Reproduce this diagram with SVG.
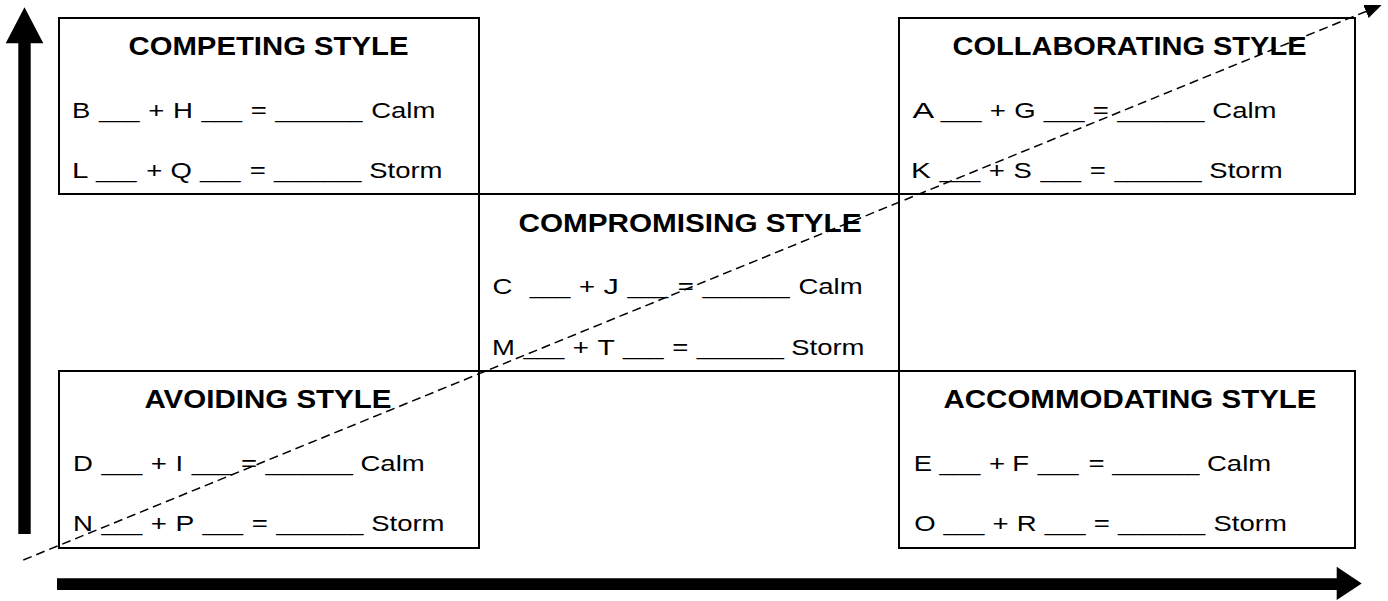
<svg xmlns="http://www.w3.org/2000/svg" width="1388" height="601" viewBox="0 0 1388 601">
  <style>
    .box { fill: #ffffff; stroke: #000000; stroke-width: 2; }
    .title { font-family: "Liberation Sans", Arial, sans-serif; font-weight: bold; font-size: 25px; fill: #000000; }
    .row { font-family: "Liberation Sans", Arial, sans-serif; font-size: 22.5px; fill: #000000; }
    .axis { fill: #000000; stroke: none; }
    .trend { fill: none; stroke: #000000; stroke-width: 1.5; stroke-dasharray: 9 5; }
  </style>
  <defs>
    <marker id="arrowHead" viewBox="0 0 17 14" refX="17" refY="7" markerWidth="17" markerHeight="14" markerUnits="userSpaceOnUse" orient="auto">
      <path d="M0,0 L17,7 L0,14 z" fill="#000000"/>
    </marker>
  </defs>

  <rect width="1388" height="601" fill="#ffffff"/>

  <!-- style quadrants; each answer row is laid out token by token -->
  <g id="competing">
    <rect class="box" x="59" y="18" width="420" height="176"/>
    <text class="title" x="128.5" y="55" textLength="280" lengthAdjust="spacingAndGlyphs">COMPETING STYLE</text>
    <text class="row" y="118"><tspan x="72" textLength="18.3" lengthAdjust="spacingAndGlyphs">B</tspan> <tspan x="98.9" textLength="40.7" lengthAdjust="spacingAndGlyphs">___</tspan> <tspan x="148.2" textLength="16.1" lengthAdjust="spacingAndGlyphs">+</tspan> <tspan x="172.9" textLength="19.9" lengthAdjust="spacingAndGlyphs">H</tspan> <tspan x="201.4" textLength="40.7" lengthAdjust="spacingAndGlyphs">___</tspan> <tspan x="250.7" textLength="16.1" lengthAdjust="spacingAndGlyphs">=</tspan> <tspan x="275.3" textLength="87.3" lengthAdjust="spacingAndGlyphs">_______</tspan> <tspan x="371.2" textLength="64.2" lengthAdjust="spacingAndGlyphs">Calm</tspan></text>
    <text class="row" y="178"><tspan x="72" textLength="15.3" lengthAdjust="spacingAndGlyphs">L</tspan> <tspan x="95.9" textLength="40.7" lengthAdjust="spacingAndGlyphs">___</tspan> <tspan x="146.2" textLength="16.1" lengthAdjust="spacingAndGlyphs">+</tspan> <tspan x="170.4" textLength="21.4" lengthAdjust="spacingAndGlyphs">Q</tspan> <tspan x="199.9" textLength="40.7" lengthAdjust="spacingAndGlyphs">___</tspan> <tspan x="249.7" textLength="16.1" lengthAdjust="spacingAndGlyphs">=</tspan> <tspan x="274.1" textLength="87.3" lengthAdjust="spacingAndGlyphs">_______</tspan> <tspan x="369.2" textLength="73.3" lengthAdjust="spacingAndGlyphs">Storm</tspan></text>
  </g>

  <g id="collaborating">
    <rect class="box" x="899" y="18" width="456" height="176"/>
    <text class="title" x="952.5" y="55" textLength="354" lengthAdjust="spacingAndGlyphs">COLLABORATING STYLE</text>
    <text class="row" y="118"><tspan x="912.5" textLength="19.9" lengthAdjust="spacingAndGlyphs">A</tspan> <tspan x="940.8" textLength="40.7" lengthAdjust="spacingAndGlyphs">___</tspan> <tspan x="989.8" textLength="16.1" lengthAdjust="spacingAndGlyphs">+</tspan> <tspan x="1014.2" textLength="21.4" lengthAdjust="spacingAndGlyphs">G</tspan> <tspan x="1043.8" textLength="40.7" lengthAdjust="spacingAndGlyphs">___</tspan> <tspan x="1092.8" textLength="16.1" lengthAdjust="spacingAndGlyphs">=</tspan> <tspan x="1117.2" textLength="87.3" lengthAdjust="spacingAndGlyphs">_______</tspan> <tspan x="1212.3" textLength="64.2" lengthAdjust="spacingAndGlyphs">Calm</tspan></text>
    <text class="row" y="178"><tspan x="911" textLength="19.9" lengthAdjust="spacingAndGlyphs">K</tspan> <tspan x="939.5" textLength="40.7" lengthAdjust="spacingAndGlyphs">___</tspan> <tspan x="988.8" textLength="16.1" lengthAdjust="spacingAndGlyphs">+</tspan> <tspan x="1013.4" textLength="18.3" lengthAdjust="spacingAndGlyphs">S</tspan> <tspan x="1040.4" textLength="40.7" lengthAdjust="spacingAndGlyphs">___</tspan> <tspan x="1089.7" textLength="16.1" lengthAdjust="spacingAndGlyphs">=</tspan> <tspan x="1114.4" textLength="87.3" lengthAdjust="spacingAndGlyphs">_______</tspan> <tspan x="1209.3" textLength="73.3" lengthAdjust="spacingAndGlyphs">Storm</tspan></text>
  </g>

  <g id="compromising">
    <rect class="box" x="479" y="194" width="420" height="177"/>
    <text class="title" x="518.5" y="232" textLength="343" lengthAdjust="spacingAndGlyphs">COMPROMISING STYLE</text>
    <text class="row" y="294" xml:space="preserve"><tspan x="492.6" textLength="19.9" lengthAdjust="spacingAndGlyphs">C</tspan>  <tspan x="529.7" textLength="40.7" lengthAdjust="spacingAndGlyphs">___</tspan> <tspan x="579" textLength="16.1" lengthAdjust="spacingAndGlyphs">+</tspan> <tspan x="603.6" textLength="15.3" lengthAdjust="spacingAndGlyphs">J</tspan> <tspan x="627.5" textLength="40.7" lengthAdjust="spacingAndGlyphs">___</tspan> <tspan x="677.8" textLength="16.1" lengthAdjust="spacingAndGlyphs">=</tspan> <tspan x="702.5" textLength="87.3" lengthAdjust="spacingAndGlyphs">_______</tspan> <tspan x="798.4" textLength="64.2" lengthAdjust="spacingAndGlyphs">Calm</tspan></text>
    <text class="row" y="355"><tspan x="492" textLength="22.9" lengthAdjust="spacingAndGlyphs">M</tspan> <tspan x="523.5" textLength="40.7" lengthAdjust="spacingAndGlyphs">___</tspan> <tspan x="572.8" textLength="16.1" lengthAdjust="spacingAndGlyphs">+</tspan> <tspan x="597.5" textLength="16.8" lengthAdjust="spacingAndGlyphs">T</tspan> <tspan x="622.9" textLength="40.7" lengthAdjust="spacingAndGlyphs">___</tspan> <tspan x="672.2" textLength="16.1" lengthAdjust="spacingAndGlyphs">=</tspan> <tspan x="696.8" textLength="87.3" lengthAdjust="spacingAndGlyphs">_______</tspan> <tspan x="791.2" textLength="73.3" lengthAdjust="spacingAndGlyphs">Storm</tspan></text>
  </g>

  <g id="avoiding">
    <rect class="box" x="59" y="371" width="420" height="177"/>
    <text class="title" x="144.5" y="408" textLength="247" lengthAdjust="spacingAndGlyphs">AVOIDING STYLE</text>
    <text class="row" y="471"><tspan x="73" textLength="19.9" lengthAdjust="spacingAndGlyphs">D</tspan> <tspan x="101.5" textLength="40.7" lengthAdjust="spacingAndGlyphs">___</tspan> <tspan x="150.8" textLength="16.1" lengthAdjust="spacingAndGlyphs">+</tspan> <tspan x="175.4" textLength="7.6" lengthAdjust="spacingAndGlyphs">I</tspan> <tspan x="191.7" textLength="40.7" lengthAdjust="spacingAndGlyphs">___</tspan> <tspan x="241" textLength="16.1" lengthAdjust="spacingAndGlyphs">=</tspan> <tspan x="265.6" textLength="87.3" lengthAdjust="spacingAndGlyphs">_______</tspan> <tspan x="360.5" textLength="64.2" lengthAdjust="spacingAndGlyphs">Calm</tspan></text>
    <text class="row" y="531"><tspan x="73" textLength="19.9" lengthAdjust="spacingAndGlyphs">N</tspan> <tspan x="101.5" textLength="40.7" lengthAdjust="spacingAndGlyphs">___</tspan> <tspan x="150.8" textLength="16.1" lengthAdjust="spacingAndGlyphs">+</tspan> <tspan x="175.4" textLength="18.3" lengthAdjust="spacingAndGlyphs">P</tspan> <tspan x="202.4" textLength="40.7" lengthAdjust="spacingAndGlyphs">___</tspan> <tspan x="251.7" textLength="16.1" lengthAdjust="spacingAndGlyphs">=</tspan> <tspan x="276.3" textLength="87.3" lengthAdjust="spacingAndGlyphs">_______</tspan> <tspan x="371.2" textLength="73.3" lengthAdjust="spacingAndGlyphs">Storm</tspan></text>
  </g>

  <g id="accommodating">
    <rect class="box" x="899" y="371" width="456" height="177"/>
    <text class="title" x="943.5" y="408" textLength="373" lengthAdjust="spacingAndGlyphs">ACCOMMODATING STYLE</text>
    <text class="row" y="471"><tspan x="913.8" textLength="18.3" lengthAdjust="spacingAndGlyphs">E</tspan> <tspan x="939.5" textLength="40.7" lengthAdjust="spacingAndGlyphs">___</tspan> <tspan x="989" textLength="16.1" lengthAdjust="spacingAndGlyphs">+</tspan> <tspan x="1012.2" textLength="16.8" lengthAdjust="spacingAndGlyphs">F</tspan> <tspan x="1037.8" textLength="40.7" lengthAdjust="spacingAndGlyphs">___</tspan> <tspan x="1088.4" textLength="16.1" lengthAdjust="spacingAndGlyphs">=</tspan> <tspan x="1112.3" textLength="87.3" lengthAdjust="spacingAndGlyphs">_______</tspan> <tspan x="1207" textLength="64.2" lengthAdjust="spacingAndGlyphs">Calm</tspan></text>
    <text class="row" y="531"><tspan x="914.2" textLength="21.4" lengthAdjust="spacingAndGlyphs">O</tspan> <tspan x="943.5" textLength="40.7" lengthAdjust="spacingAndGlyphs">___</tspan> <tspan x="992.5" textLength="16.1" lengthAdjust="spacingAndGlyphs">+</tspan> <tspan x="1016.7" textLength="19.9" lengthAdjust="spacingAndGlyphs">R</tspan> <tspan x="1044.8" textLength="40.7" lengthAdjust="spacingAndGlyphs">___</tspan> <tspan x="1093.8" textLength="16.1" lengthAdjust="spacingAndGlyphs">=</tspan> <tspan x="1118" textLength="87.3" lengthAdjust="spacingAndGlyphs">_______</tspan> <tspan x="1213.5" textLength="73.3" lengthAdjust="spacingAndGlyphs">Storm</tspan></text>
  </g>

  <!-- axes and diagonal trend line -->
  <g id="connectors">
    <polygon class="axis" points="18.3,534 30.7,534 30.7,43.3 43.3,43.3 24.5,7.3 5.7,43.3 18.3,43.3"/>
    <polygon class="axis" points="57,578.3 1336.7,578.3 1336.7,566.7 1361.7,583.5 1336.7,600 1336.7,590 57,590"/>
    <line class="trend" x1="23.3" y1="560" x2="1381.7" y2="5" marker-end="url(#arrowHead)"/>
  </g>
</svg>
